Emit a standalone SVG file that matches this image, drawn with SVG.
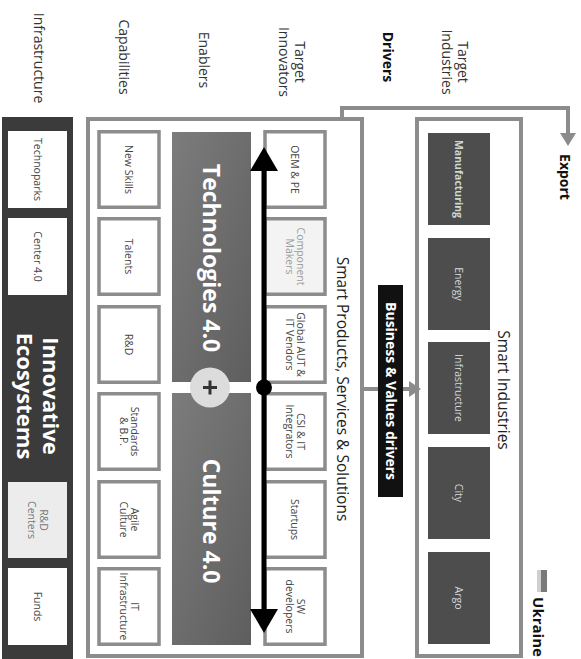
<svg xmlns="http://www.w3.org/2000/svg" width="581" height="659" viewBox="0 0 581 659">
<style>
text{font-family:'Open Sans','Noto Sans','DejaVu Sans',sans-serif}
.lbl{font-size:14px;fill:#333}
.bold{font-weight:bold;fill:#111}
.box{fill:#fff;stroke:#8c8c8c;stroke-width:3.5}
.frame{fill:#fff;stroke:#8c8c8c;stroke-width:4}
.bt{font-size:10.5px;fill:#444}
.ind{fill:#4d4d4d}
.it{font-size:10.5px;fill:#d8d8d8}
.wbox{fill:#fff}
.big{font-size:23px;font-weight:bold;fill:#fff}
.conn{fill:none;stroke:#8c8c8c;stroke-width:4}
</style>
<defs>
<linearGradient id="tg" x1="0" y1="0" x2="1" y2="1">
<stop offset="0" stop-color="#7c7c7c"/>
<stop offset="1" stop-color="#5e5e5e"/>
</linearGradient>
</defs>
<rect width="581" height="659" fill="#fff"/>

<g id="row-labels">
<text class="lbl" transform="translate(39,58) rotate(90)" text-anchor="middle" dy="0.35em">Infrastructure</text>
<text class="lbl" transform="translate(124,57) rotate(90)" text-anchor="middle" dy="0.35em">Capabilities</text>
<text class="lbl" transform="translate(204,60) rotate(90)" text-anchor="middle" dy="0.35em">Enablers</text>
<text class="lbl" transform="translate(292,62) rotate(90)" text-anchor="middle"><tspan x="0" dy="-0.2em">Target</tspan><tspan x="0" dy="1.15em">Innovators</tspan></text>
<text class="lbl bold" transform="translate(388,57) rotate(90)" text-anchor="middle" dy="0.35em">Drivers</text>
<text class="lbl" transform="translate(455,62) rotate(90)" text-anchor="middle"><tspan x="0" dy="-0.2em">Target</tspan><tspan x="0" dy="1.15em">Industries</tspan></text>
</g>

<g id="infrastructure">
<rect x="2" y="117" width="71" height="542" fill="#3b3b3b"/>
<rect class="wbox" x="8" y="131" width="59" height="77"/>
<text class="bt" transform="translate(37.5,169.5) rotate(90)" text-anchor="middle" dy="0.35em">Technoparks</text>
<rect class="wbox" x="8" y="218" width="59" height="77"/>
<text class="bt" transform="translate(37.5,256.5) rotate(90)" text-anchor="middle" dy="0.35em">Center 4.0</text>
<text class="big" transform="translate(37,396) rotate(90)" text-anchor="middle" style="font-size:22px"><tspan x="0" dy="-0.25em">Innovative</tspan><tspan x="0" dy="1.15em">Ecosystems</tspan></text>
<rect x="8" y="482" width="59" height="76" fill="#ececec"/>
<text class="bt" transform="translate(37.5,520) rotate(90)" text-anchor="middle" style="fill:#777"><tspan x="0" dy="-0.2em">R&amp;D</tspan><tspan x="0" dy="1.1em">Centers</tspan></text>
<rect class="wbox" x="8" y="568" width="59" height="77"/>
<text class="bt" transform="translate(37.5,606.5) rotate(90)" text-anchor="middle" dy="0.35em">Funds</text>
</g>

<g id="smart-products">
<rect class="frame" x="88" y="119" width="274" height="537"/>
<text transform="translate(342,389) rotate(90)" text-anchor="middle" dy="0.35em" style="font-size:15.5px;fill:#222">Smart Products, Services &amp; Solutions</text>
</g>

<g id="capabilities">
<rect class="box" x="99" y="131.75" width="60" height="75.5"/>
<text class="bt" transform="translate(129,169.5) rotate(90)" text-anchor="middle" dy="0.35em">New Skills</text>
<rect class="box" x="99" y="218.75" width="60" height="75.5"/>
<text class="bt" transform="translate(129,256.5) rotate(90)" text-anchor="middle" dy="0.35em">Talents</text>
<rect class="box" x="99" y="306.75" width="60" height="75.5"/>
<text class="bt" transform="translate(129,344.5) rotate(90)" text-anchor="middle" dy="0.35em">R&amp;D</text>
<rect class="box" x="99" y="393.75" width="60" height="75.5"/>
<text class="bt" transform="translate(129,431.5) rotate(90)" text-anchor="middle"><tspan x="0" dy="-0.2em">Standards</tspan><tspan x="0" dy="1.1em">&amp; B.P.</tspan></text>
<rect class="box" x="99" y="481.75" width="60" height="75.5"/>
<text class="bt" transform="translate(129,519.5) rotate(90)" text-anchor="middle"><tspan x="0" dy="-0.2em">Agile</tspan><tspan x="0" dy="1.1em">Culture</tspan></text>
<rect class="box" x="99" y="568.75" width="60" height="75.5"/>
<text class="bt" transform="translate(129,606.5) rotate(90)" text-anchor="middle"><tspan x="0" dy="-0.2em">IT</tspan><tspan x="0" dy="1.1em">Infrastructure</tspan></text>
</g>

<g id="enablers">
<rect x="172" y="132" width="79" height="250" fill="url(#tg)"/>
<rect x="172" y="393" width="79" height="252" fill="url(#tg)"/>
<text class="big" transform="translate(211,258) rotate(90)" text-anchor="middle" dy="0.35em">Technologies 4.0</text>
<text class="big" transform="translate(211,521) rotate(90)" text-anchor="middle" dy="0.35em">Culture 4.0</text>
<circle cx="210" cy="387.5" r="20" fill="#dcdcdc"/>
<path d="M203,387.5 H217 M210,380.5 V394.5" stroke="#333" stroke-width="3"/>
</g>

<g id="innovators">
<rect class="box" x="265" y="131.75" width="60" height="75.5"/>
<text class="bt" transform="translate(295,169.5) rotate(90)" text-anchor="middle" dy="0.35em">OEM &amp; PE</text>
<rect class="box" x="265" y="218.75" width="60" height="75.5" style="fill:#f3f3f3"/>
<text class="bt" transform="translate(295,256.5) rotate(90)" text-anchor="middle" style="fill:#9a9a9a"><tspan x="0" dy="-0.2em">Component</tspan><tspan x="0" dy="1.1em">Makers</tspan></text>
<rect class="box" x="265" y="306.75" width="60" height="75.5"/>
<text class="bt" transform="translate(295,344.5) rotate(90)" text-anchor="middle"><tspan x="0" dy="-0.2em">Global AUT &amp;</tspan><tspan x="0" dy="1.1em">IT Vendors</tspan></text>
<rect class="box" x="265" y="393.75" width="60" height="75.5"/>
<text class="bt" transform="translate(295,431.5) rotate(90)" text-anchor="middle"><tspan x="0" dy="-0.2em">CSI &amp; IT</tspan><tspan x="0" dy="1.1em">Integrators</tspan></text>
<rect class="box" x="265" y="481.75" width="60" height="75.5"/>
<text class="bt" transform="translate(295,519.5) rotate(90)" text-anchor="middle" dy="0.35em">Startups</text>
<rect class="box" x="265" y="568.75" width="60" height="75.5"/>
<text class="bt" transform="translate(295,606.5) rotate(90)" text-anchor="middle"><tspan x="0" dy="-0.2em">SW</tspan><tspan x="0" dy="1.1em">developers</tspan></text>
</g>

<g id="smart-industries">
<rect class="frame" x="417" y="119" width="104" height="537"/>
<text transform="translate(503,390) rotate(90)" text-anchor="middle" dy="0.35em" style="font-size:15.5px;fill:#222">Smart Industries</text>
<rect class="ind" x="428" y="133" width="62" height="92"/>
<text class="it" transform="translate(459,179) rotate(90)" text-anchor="middle" dy="0.35em" style="font-weight:bold;fill:#cfd8cf">Manufacturing</text>
<rect class="ind" x="428" y="238" width="62" height="92"/>
<text class="it" transform="translate(459,284) rotate(90)" text-anchor="middle" dy="0.35em">Energy</text>
<rect class="ind" x="428" y="342" width="62" height="92"/>
<text class="it" transform="translate(459,388) rotate(90)" text-anchor="middle" dy="0.35em">Infrastructure</text>
<rect class="ind" x="428" y="447" width="62" height="92"/>
<text class="it" transform="translate(459,493) rotate(90)" text-anchor="middle" dy="0.35em">City</text>
<rect class="ind" x="428" y="552" width="62" height="92"/>
<text class="it" transform="translate(459,598) rotate(90)" text-anchor="middle" dy="0.35em">Argo</text>
</g>

<g id="legend">
<rect x="537" y="570" width="4" height="22" fill="#cfcfcf"/>
<rect x="541" y="570" width="6" height="22" fill="#7a7a7a"/>
<text transform="translate(538,627) rotate(90)" text-anchor="middle" dy="0.35em" style="font-size:15px;font-weight:bold;fill:#111">Ukraine</text>
</g>

<g id="export-label">
<text transform="translate(565,177) rotate(90)" text-anchor="middle" dy="0.35em" style="font-size:14px;font-weight:bold;fill:#111">Export</text>
</g>

<g id="connectors">
<path class="conn" d="M342,119 V108 H568 V134"/>
<polygon points="560,133 576,133 568,146" fill="#8c8c8c"/>
<line class="conn" x1="364" y1="389" x2="411" y2="389"/>
<polygon points="409,381 409,397 421,389" fill="#8c8c8c"/>
<line x1="264" y1="165" x2="264" y2="615" stroke="#000" stroke-width="5"/>
<polygon points="264,147 250,171 278,171" fill="#000"/>
<polygon points="264,633 250,609 278,609" fill="#000"/>
<circle cx="264" cy="387.5" r="8" fill="#000"/>
</g>

<g id="drivers">
<rect x="378" y="285" width="25" height="212" fill="#111"/>
<text transform="translate(390.5,391) rotate(90)" text-anchor="middle" dy="0.35em" style="font-size:14px;font-weight:bold;fill:#fff">Business &amp; Values drivers</text>
</g>
</svg>
